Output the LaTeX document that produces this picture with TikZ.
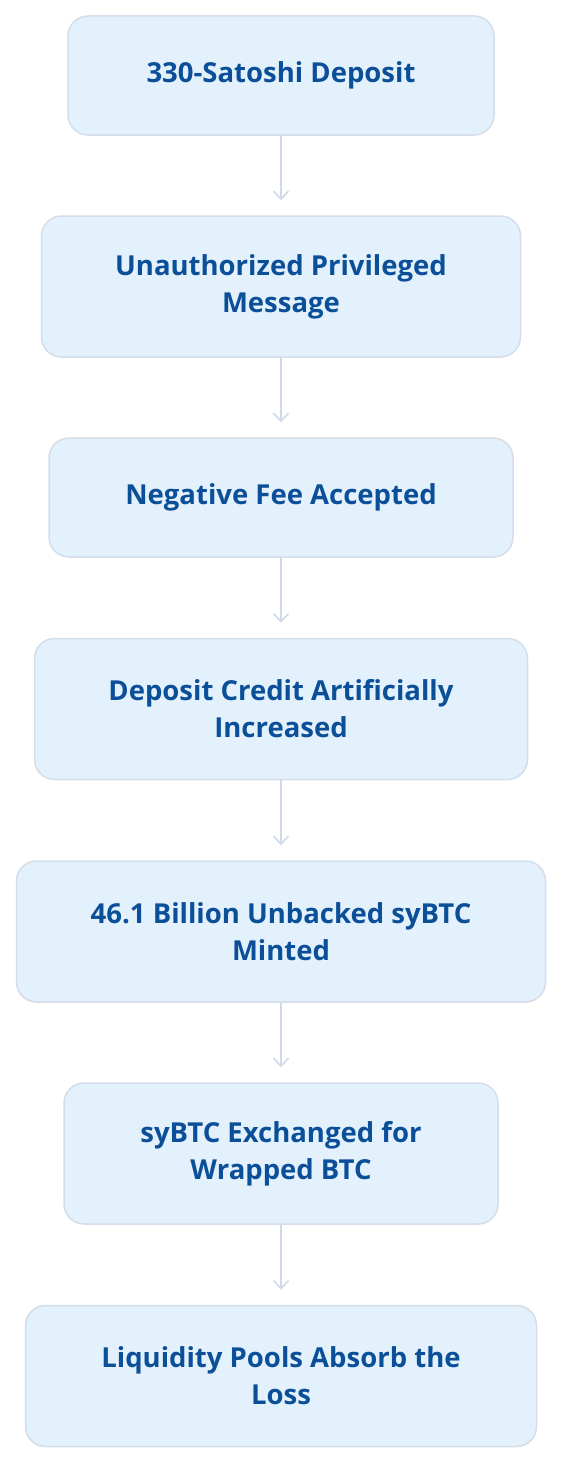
\documentclass[tikz,border=0pt]{standalone}
\usepackage{fontspec}
\setmainfont{Open Sans}
\usetikzlibrary{arrows.meta}
\definecolor{boxfill}{RGB}{227,241,253}
\definecolor{boxline}{RGB}{212,221,232}
\definecolor{boxtext}{RGB}{11,79,153}
\definecolor{flowline}{RGB}{206,218,232}
\begin{document}
\begin{tikzpicture}[x=1pt,y=-1pt,
	stepbox/.style={draw=boxline,line width=1.5pt,fill=boxfill,rounded corners=20pt,
		align=center,text=boxtext,font=\fontsize{27.5}{37}\selectfont\bfseries,inner sep=0pt},
	flow/.style={draw=flowline,line width=1.6pt,-{Straight Barb[length=8pt,width=15pt]},shorten >=15pt}]
			% page frame
			\useasboundingbox (0,0) rectangle (562,1464);
			% stages of the exploit
			\node[stepbox,minimum width=426pt,minimum height=119pt] (deposit) at (281,75.5) {330-Satoshi Deposit};
			\node[stepbox,minimum width=479pt,minimum height=141pt] (message) at (281,286.5) {Unauthorized Privileged\\Message};
			\node[stepbox,minimum width=464pt,minimum height=119pt] (fee) at (281,497.5) {Negative Fee Accepted};
			\node[stepbox,minimum width=493pt,minimum height=141pt] (credit) at (281,709) {Deposit Credit Artificially\\Increased};
			\node[stepbox,minimum width=529pt,minimum height=141pt] (mint) at (281,931.5) {46.1 Billion Unbacked syBTC\\Minted};
			\node[stepbox,minimum width=434pt,minimum height=141pt] (swap) at (281,1153.5) {syBTC Exchanged for\\Wrapped BTC};
			\node[stepbox,minimum width=511pt,minimum height=141pt] (pools) at (281,1376) {Liquidity Pools Absorb the\\Loss};
			% connectors
			\draw[flow] (deposit) -- (message);
			\draw[flow] (message) -- (fee);
			\draw[flow] (fee) -- (credit);
			\draw[flow] (credit) -- (mint);
			\draw[flow] (mint) -- (swap);
			\draw[flow] (swap) -- (pools);
\end{tikzpicture}
\end{document}
